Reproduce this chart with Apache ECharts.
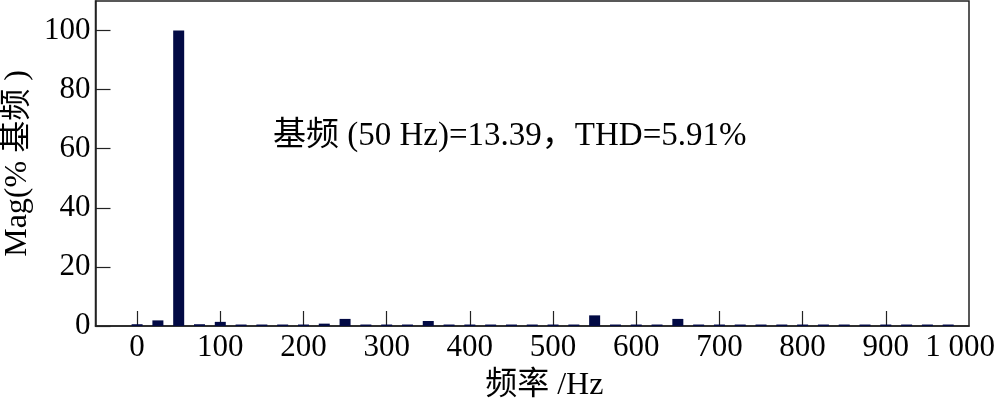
<!DOCTYPE html>
<html>
<head>
<meta charset="utf-8">
<script src="https://cdn.jsdelivr.net/npm/echarts@6/dist/echarts.min.js"></script>
<style>html,body{margin:0;padding:0;background:#fff}#c{width:1000px;height:403px}</style>
</head>
<body>
<div id="c"></div>
<script>
const freqs = [0,25,50,75,100,125,150,175,200,225,250,275,300,325,350,375,400,425,450,475,500,525,550,575,600,625,650,675,700,725,750,775,800,825,850,875,900,925,950,975];
const mags  = [0.6,1.9,100,0.6,1.4,0.5,0.5,0.5,0.5,0.8,2.4,0.5,0.5,0.5,1.7,0.5,0.5,0.5,0.5,0.5,0.5,0.5,3.6,0.5,0.5,0.5,2.4,0.5,0.5,0.5,0.5,0.5,0.5,0.5,0.5,0.5,0.5,0.5,0.5,0.5];
const xTicks = [0,100,200,300,400,500,600,700,800,900];
const xLabels = [0,100,200,300,400,500,600,700,800,900,1000];
const yTicks = [0,20,40,60,80,100];
const annotation = '基频 (50 Hz)=13.39，THD=5.91%';
const xTitle = '频率 /Hz';
const yTitle = 'Mag(% 基频 )';

const FONT = "'Liberation Serif', 'Noto Sans CJK SC', serif";
const chart = echarts.init(document.getElementById('c'), null, {renderer: 'canvas'});
chart.setOption({
  animation: false,
  backgroundColor: '#fff',
  grid: {left: 95.5, right: 31, top: 1, bottom: 77, containLabel: false, outerBoundsMode: 'none', show: true, borderColor: '#222', borderWidth: 1.5, backgroundColor: '#fff'},
  xAxis: {
    type: 'value', min: -50, max: 1000,
    name: xTitle, nameLocation: 'middle', nameGap: 44,
    nameTextStyle: {fontFamily: FONT, fontSize: 32, color: '#000', padding: [0, 0, 0, 24]},
    axisLine: {show: true, onZero: false, lineStyle: {color: '#222', width: 1.5}},
    axisTick: {show: true, inside: true, length: 15, customValues: xTicks, lineStyle: {color: '#222', width: 1.2}},
    axisLabel: {
      customValues: xLabels, margin: 6, fontFamily: FONT, fontSize: 31, color: '#000',
      formatter: v => v === 1000 ? '{a|1 000}' : String(v),
      rich: {a: {fontFamily: FONT, fontSize: 31, color: '#000', padding: [0, 18, 0, 0]}}
    },
    splitLine: {show: false}
  },
  yAxis: {
    type: 'value', min: 0, max: 110,
    name: yTitle, nameLocation: 'middle', nameGap: 54, nameRotate: 90,
    nameTextStyle: {fontFamily: FONT, fontSize: 32, color: '#000'},
    axisLine: {show: true, onZero: false, lineStyle: {color: '#222', width: 1.5}},
    axisTick: {show: true, inside: true, length: 15, customValues: yTicks, lineStyle: {color: '#222', width: 1.2}},
    axisLabel: {customValues: yTicks, margin: 5, fontFamily: FONT, fontSize: 31, color: '#000'},
    splitLine: {show: false}
  },
  series: [{
    type: 'bar', barWidth: 11,
    data: freqs.map((f, i) => [f, mags[i]]),
    itemStyle: {color: '#020a44'}
  }],
  graphic: [{
    type: 'text', left: 273, top: 120,
    style: {text: annotation, font: "33px " + FONT, fill: '#000'}
  }]
});
</script>
</body>
</html>
